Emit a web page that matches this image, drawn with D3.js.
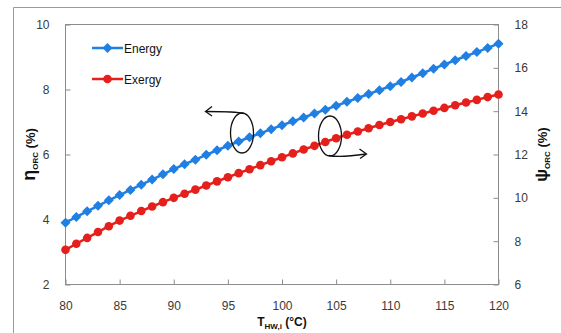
<!DOCTYPE html>
<html>
<head>
<meta charset="utf-8">
<script src="https://cdn.jsdelivr.net/npm/d3@7"></script>
<style>
  html, body { margin: 0; padding: 0; background: #fff; }
  svg { display: block; font-family: "Liberation Sans", Arial, sans-serif; }
</style>
</head>
<body>
<svg id="chart" width="561" height="333"></svg>
<script>
// ---- data ----
const temperature = d3.range(80, 121, 1);
const energyEff = [3.90, 4.08, 4.25, 4.42, 4.59, 4.75, 4.91, 5.07, 5.23, 5.39,
                   5.55, 5.70, 5.84, 5.99, 6.13, 6.27, 6.40, 6.53, 6.65, 6.78,
                   6.90, 7.02, 7.14, 7.26, 7.38, 7.50, 7.62, 7.74, 7.86, 7.98,
                   8.10, 8.23, 8.37, 8.50, 8.64, 8.77, 8.90, 9.03, 9.15, 9.28, 9.41];
const exergyEff = [7.60, 7.88, 8.15, 8.42, 8.69, 8.95, 9.17, 9.39, 9.60, 9.80,
                   10.00, 10.19, 10.38, 10.57, 10.76, 10.95, 11.14, 11.32, 11.51, 11.69,
                   11.87, 12.05, 12.23, 12.40, 12.58, 12.75, 12.91, 13.06, 13.21, 13.36,
                   13.50, 13.63, 13.76, 13.89, 14.02, 14.15, 14.27, 14.40, 14.52, 14.65, 14.77];
const xTicks = [80, 85, 90, 95, 100, 105, 110, 115, 120];
const leftTicks = [2, 4, 6, 8, 10];
const rightTicks = [6, 8, 10, 12, 14, 16, 18];
const seriesNames = ["Energy", "Exergy"];

// ---- layout ----
const svg = d3.select("#chart");
const m = { left: 65.5, top: 24.5, right: 498.5, bottom: 284.5 };
const blue = "#1f7fe3", red = "#e5201c";
const axisColor = "#8c8c8c", textColor = "#3a3a3a";

const x = d3.scaleLinear().domain([80, 120]).range([m.left, m.right]);
const yL = d3.scaleLinear().domain([2, 10]).range([m.bottom, m.top]);
const yR = d3.scaleLinear().domain([6, 18]).range([m.bottom, m.top]);

// outer frame
svg.append("path").attr("d", `M13.5,333 V7.5 H561`)
  .attr("fill", "none").attr("stroke", "#9a9a9a").attr("stroke-width", 1);

// plot box
svg.append("rect").attr("x", m.left).attr("y", m.top)
  .attr("width", m.right - m.left).attr("height", m.bottom - m.top)
  .attr("fill", "none").attr("stroke", axisColor).attr("stroke-width", 1);

// axes
function styleAxis(g) {
  g.select(".domain").remove();
  g.selectAll(".tick line").attr("stroke", axisColor);
  g.selectAll(".tick text").attr("fill", textColor).style("font-size", "12px");
}
svg.append("g").attr("transform", `translate(0,${m.bottom})`)
  .call(d3.axisBottom(x).tickValues(xTicks).tickSizeInner(-5).tickSizeOuter(0).tickPadding(17))
  .call(styleAxis);
svg.append("g").attr("transform", `translate(${m.left},0)`)
  .call(d3.axisLeft(yL).tickValues(leftTicks).tickSizeInner(-5).tickSizeOuter(0).tickPadding(16))
  .call(styleAxis);
svg.append("g").attr("transform", `translate(${m.right},0)`)
  .call(d3.axisRight(yR).tickValues(rightTicks).tickSizeInner(-5).tickSizeOuter(0).tickPadding(16))
  .call(styleAxis);

// axis titles
const lt = svg.append("text").attr("transform", `translate(35,${(m.top + m.bottom) / 2}) rotate(-90)`)
  .attr("text-anchor", "middle").attr("fill", "#111").style("font-weight", "bold").style("font-size", "13px");
lt.append("tspan").text("η").style("font-size", "18px");
lt.append("tspan").text("ORC").style("font-size", "8px").attr("dy", 3);
lt.append("tspan").text(" (%)").attr("dy", -3);

const rt = svg.append("text").attr("transform", `translate(547,${(m.top + m.bottom) / 2}) rotate(-90)`)
  .attr("text-anchor", "middle").attr("fill", "#111").style("font-weight", "bold").style("font-size", "13px");
rt.append("tspan").text("ψ").style("font-size", "17px");
rt.append("tspan").text("ORC").style("font-size", "8px").attr("dy", 3);
rt.append("tspan").text(" (%)").attr("dy", -3);

const xt = svg.append("text").attr("x", (m.left + m.right) / 2).attr("y", 326)
  .attr("text-anchor", "middle").attr("fill", "#111").style("font-weight", "bold").style("font-size", "12px");
xt.append("tspan").text("T");
xt.append("tspan").text("HW,i").style("font-size", "8px").attr("dy", 3);
xt.append("tspan").text(" (°C)").attr("dy", -3);

// series
const energyData = temperature.map((t, i) => ({ t, v: energyEff[i] }));
const exergyData = temperature.map((t, i) => ({ t, v: exergyEff[i] }));

svg.append("path").datum(energyData)
  .attr("d", d3.line().x(d => x(d.t)).y(d => yL(d.v)))
  .attr("fill", "none").attr("stroke", blue).attr("stroke-width", 2.5);
svg.append("path").datum(exergyData)
  .attr("d", d3.line().x(d => x(d.t)).y(d => yR(d.v)))
  .attr("fill", "none").attr("stroke", red).attr("stroke-width", 2.5);

const diamond = d3.symbol().type(d3.symbolSquare).size(50)();
svg.append("g").selectAll("path").data(energyData).join("path")
  .attr("d", diamond)
  .attr("transform", d => `translate(${x(d.t)},${yL(d.v)}) rotate(45)`)
  .attr("fill", blue);
svg.append("g").selectAll("circle").data(exergyData).join("circle")
  .attr("cx", d => x(d.t)).attr("cy", d => yR(d.v)).attr("r", 4.3)
  .attr("fill", red);

// legend
const legendY = [48, 79];
const legendColors = [blue, red];
seriesNames.forEach((name, i) => {
  const g = svg.append("g").attr("transform", `translate(92,${legendY[i]})`);
  g.append("line").attr("x1", 0).attr("x2", 31).attr("stroke", legendColors[i]).attr("stroke-width", 2.5);
  if (i === 0) g.append("path").attr("d", diamond).attr("transform", "translate(15.5,0) rotate(45)").attr("fill", blue);
  else g.append("circle").attr("cx", 15.5).attr("r", 4.3).attr("fill", red);
  g.append("text").attr("x", 32).attr("y", 4.5).text(name)
    .attr("fill", "#111").style("font-size", "12px");
});

// annotation ellipses and arrows
svg.append("ellipse").attr("cx", 242).attr("cy", 133).attr("rx", 11.5).attr("ry", 20)
  .attr("fill", "none").attr("stroke", "#111").attr("stroke-width", 1.3);
svg.append("path").attr("d", "M244,113.5 C238,112 220,111.5 206,111.5")
  .attr("fill", "none").attr("stroke", "#111").attr("stroke-width", 1.3);
svg.append("path").attr("d", "M212,106.5 L205.5,111.5 L212,116")
  .attr("fill", "none").attr("stroke", "#111").attr("stroke-width", 1.3);

svg.append("ellipse").attr("cx", 330).attr("cy", 136).attr("rx", 11.5).attr("ry", 20)
  .attr("fill", "none").attr("stroke", "#111").attr("stroke-width", 1.3);
svg.append("path").attr("d", "M329,155.5 C336,157 352,156 366,154")
  .attr("fill", "none").attr("stroke", "#111").attr("stroke-width", 1.3);
svg.append("path").attr("d", "M359.5,149 L366.5,154 L360,158.5")
  .attr("fill", "none").attr("stroke", "#111").attr("stroke-width", 1.3);
</script>
</body>
</html>
